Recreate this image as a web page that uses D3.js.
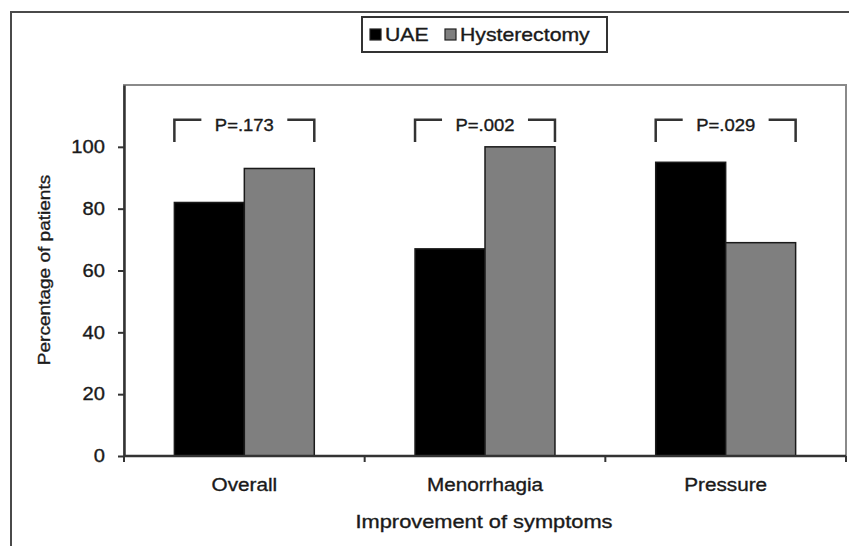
<!DOCTYPE html>
<html>
<head>
<meta charset="utf-8">
<script src="https://cdn.jsdelivr.net/npm/d3@7"></script>
<style>
  body { margin: 0; background: #fff; }
  text { font-family: "Liberation Sans", Arial, sans-serif; fill: #1a1a1a; stroke: #1a1a1a; stroke-width: 0.35px; }
</style>
</head>
<body>
<svg id="chart" width="849" height="546"></svg>
<script>
var categories = ["Overall", "Menorrhagia", "Pressure"];
var seriesNames = ["UAE", "Hysterectomy"];
var uaeValues = [82, 67, 95];
var hystValues = [93, 100, 69];
var pLabels = ["P=.173", "P=.002", "P=.029"];
var yTicks = [0, 20, 40, 60, 80, 100];
var colors = ["#000000", "#7f7f7f"];

var svg = d3.select("#chart");
var margin = {top: 85, right: 3, bottom: 90, left: 124};
var width = 849 - margin.left - margin.right;
var height = 546 - margin.top - margin.bottom;
var sx = 1.12; // the original text is a bit wide

// outer frame, runs off the right and bottom edge
svg.append("rect")
    .attr("x", 11).attr("y", 12)
    .attr("width", 900).attr("height", 600)
    .attr("fill", "none")
    .attr("stroke", "#4a4a4a")
    .attr("stroke-width", 2);

var g = svg.append("g")
    .attr("transform", "translate(" + margin.left + "," + margin.top + ")");

var x0 = d3.scaleBand()
    .domain(categories)
    .range([0, width])
    .padding(0);
var x1 = d3.scaleBand()
    .domain(seriesNames)
    .range([0, x0.bandwidth()])
    .paddingInner(0)
    .paddingOuter(0.72);
var y = d3.scaleLinear()
    .domain([0, 120])
    .range([height, 0]);

// plot area frame
g.append("rect")
    .attr("width", width).attr("height", height)
    .attr("fill", "none")
    .attr("stroke", "#8a8a8a")
    .attr("stroke-width", 2);

var rows = categories.map(function(c, i) {
  return {cat: c, vals: [uaeValues[i], hystValues[i]], p: pLabels[i]};
});

var groups = g.selectAll(".grp")
    .data(rows)
  .enter().append("g")
    .attr("class", "grp")
    .attr("transform", function(d) { return "translate(" + x0(d.cat) + ",0)"; });

groups.selectAll("rect")
    .data(function(d) { return d.vals.map(function(v, j) { return {s: seriesNames[j], v: v, c: colors[j]}; }); })
  .enter().append("rect")
    .attr("x", function(d) { return x1(d.s); })
    .attr("y", function(d) { return y(d.v); })
    .attr("width", x1.bandwidth())
    .attr("height", function(d) { return height - y(d.v); })
    .attr("fill", function(d) { return d.c; })
    .attr("stroke", "#1a1a1a")
    .attr("stroke-width", 1.5);

// p-value brackets
var stub = 27;
groups.each(function(d) {
  var gg = d3.select(this);
  var a = x1(seriesNames[0]), b = x1(seriesNames[1]) + x1.bandwidth();
  var yt = y(108.8), yb = y(101.6);
  gg.append("path")
      .attr("d", "M" + a + "," + yb + "V" + yt + "H" + (a + stub) +
                 "M" + (b - stub) + "," + yt + "H" + b + "V" + yb)
      .attr("fill", "none")
      .attr("stroke", "#333")
      .attr("stroke-width", 2.5);
  gg.append("text")
      .attr("transform", "translate(" + ((a + b) / 2) + "," + (yt + 11.5) + ") scale(" + sx + ",1)")
      .attr("text-anchor", "middle")
      .style("font-size", "16.5px")
      .text(d.p);
});

// y axis
var yAxis = g.append("g")
    .call(d3.axisLeft(y).tickValues(yTicks).tickSize(6).tickSizeOuter(0));
yAxis.select(".domain").attr("stroke", "#333").attr("stroke-width", 2.5);
yAxis.selectAll(".tick line").attr("stroke", "#333").attr("stroke-width", 2);
yAxis.selectAll(".tick text")
    .attr("x", 0)
    .attr("transform", "translate(-19,0) scale(" + sx + ",1)")
    .style("font-size", "18px")
    .attr("fill", "#1a1a1a");

// x axis with ticks at the group edges
var xAxis = g.append("g")
    .attr("transform", "translate(0," + height + ")");
xAxis.append("line")
    .attr("x1", 0).attr("x2", width)
    .attr("stroke", "#333").attr("stroke-width", 2.5);
xAxis.selectAll(".xt")
    .data(categories.concat(["end"]))
  .enter().append("line")
    .attr("class", "xt")
    .attr("x1", function(d, i) { return i * x0.step(); })
    .attr("x2", function(d, i) { return i * x0.step(); })
    .attr("y1", 0).attr("y2", 6)
    .attr("stroke", "#333").attr("stroke-width", 2);
xAxis.selectAll(".xl")
    .data(categories)
  .enter().append("text")
    .attr("class", "xl")
    .attr("transform", function(d) { return "translate(" + (x0(d) + x0.bandwidth() / 2) + ",35) scale(" + sx + ",1)"; })
    .attr("text-anchor", "middle")
    .style("font-size", "18.5px")
    .text(function(d) { return d; });

// axis titles
svg.append("text")
    .attr("transform", "translate(" + (margin.left + width / 2 - 1) + ",528) scale(1.18,1)")
    .attr("text-anchor", "middle")
    .style("font-size", "18.5px")
    .text("Improvement of symptoms");
svg.append("text")
    .attr("transform", "translate(50,270) rotate(-90) scale(" + sx + ",1)")
    .attr("text-anchor", "middle")
    .style("font-size", "17px")
    .text("Percentage of patients");

// legend
var lg = svg.append("g").attr("transform", "translate(362,17)");
lg.append("rect")
    .attr("width", 245).attr("height", 35)
    .attr("fill", "#fff")
    .attr("stroke", "#333").attr("stroke-width", 2);
var legendX = [8, 83];
var items = lg.selectAll(".li")
    .data(seriesNames)
  .enter().append("g")
    .attr("class", "li")
    .attr("transform", function(d, i) { return "translate(" + legendX[i] + ",0)"; });
items.append("rect")
    .attr("x", 0).attr("y", 12)
    .attr("width", 11).attr("height", 11)
    .attr("fill", function(d, i) { return colors[i]; })
    .attr("stroke", "#222").attr("stroke-width", 1.2);
items.append("text")
    .attr("transform", "translate(15,24) scale(1.18,1)")
    .style("font-size", "18px")
    .text(function(d) { return d; });
</script>
</body>
</html>
